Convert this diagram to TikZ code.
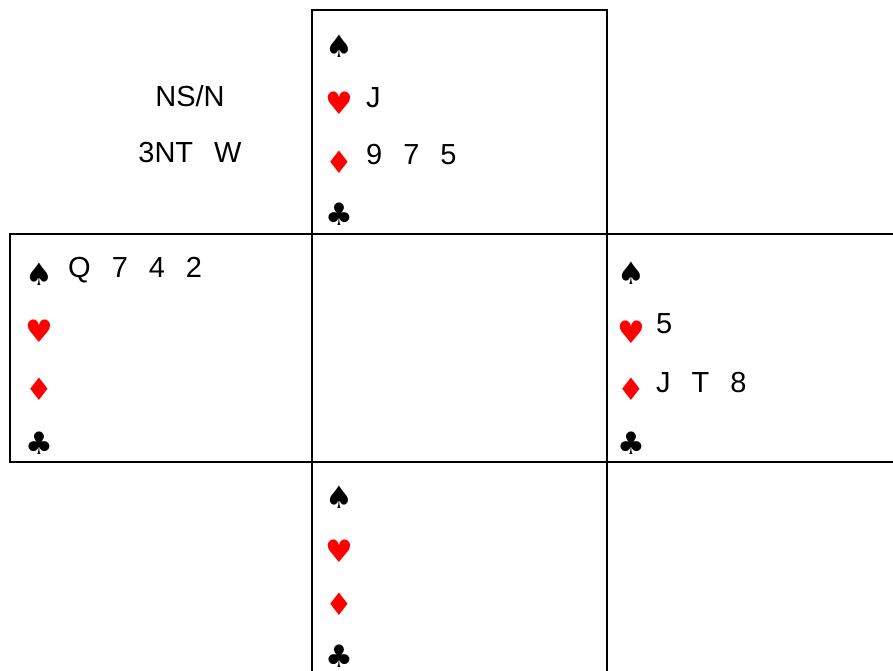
\documentclass[tikz,border=0pt]{standalone}
\usepackage{fontspec}
\setmainfont{Liberation Sans}
\newfontfamily\suitfont{DejaVu Sans}
\usepackage{tikz}
\definecolor{suitred}{RGB}{255,0,0}
\newcommand{\cardgap}{\hspace{21pt}}

\begin{document}
\begin{tikzpicture}[
    x=1pt, y=-1pt, % one unit per pixel, y runs down
    hand/.style={draw, line width=2.4pt},
    suit/.style={font=\suitfont\fontsize{31}{31}\selectfont, inner sep=0pt, anchor=center},
    redsuit/.style={suit, text=suitred},
    cards/.style={font=\fontsize{29}{34}\selectfont, inner sep=0pt, anchor=base west},
    info/.style={font=\fontsize{29}{34}\selectfont, inner sep=0pt, anchor=base}
]
\clip (0,0) rectangle (893,670);

% hand boxes
\draw[hand] (312,10) rectangle (607,234);
\draw[hand] (10,234) rectangle (312,462);
\draw[hand] (312,234) rectangle (607,462);
\draw[hand] (607,234) rectangle (905,462);
\draw[hand] (312,462) rectangle (607,690);

% deal info
\node[info] (dealer) at (190,106) {NS/N};
\node[info] (contract) at (190,162) {3NT\cardgap W};

% north
\node[suit] (ns) at (339,46) {♠};
\node[redsuit] (nh) at (339,103) {♥};
\node[redsuit] (nd) at (339,162) {♦};
\node[suit] (nc) at (339,214) {♣};
\node[cards] (nhc) at (366,107) {J};
\node[cards] (ndc) at (366,164) {9\cardgap 7\cardgap 5};

% west
\node[suit] (ws) at (39,274) {♠};
\node[redsuit] (wh) at (39,331) {♥};
\node[redsuit] (wd) at (39,389) {♦};
\node[suit] (wc) at (39,443) {♣};
\node[cards] (wsc) at (68,277) {Q\cardgap 7\cardgap 4\cardgap 2};

% east
\node[suit] (es) at (631,273) {♠};
\node[redsuit] (eh) at (631,332) {♥};
\node[redsuit] (ed) at (631,389) {♦};
\node[suit] (ec) at (631,443) {♣};
\node[cards] (ehc) at (656,333) {5};
\node[cards] (edc) at (656,392) {J\cardgap T\cardgap 8};

% south
\node[suit] (ss) at (339,497) {♠};
\node[redsuit] (sh) at (339,551) {♥};
\node[redsuit] (sd) at (339,604) {♦};
\node[suit] (sc) at (339,656) {♣};
\end{tikzpicture}
\end{document}
